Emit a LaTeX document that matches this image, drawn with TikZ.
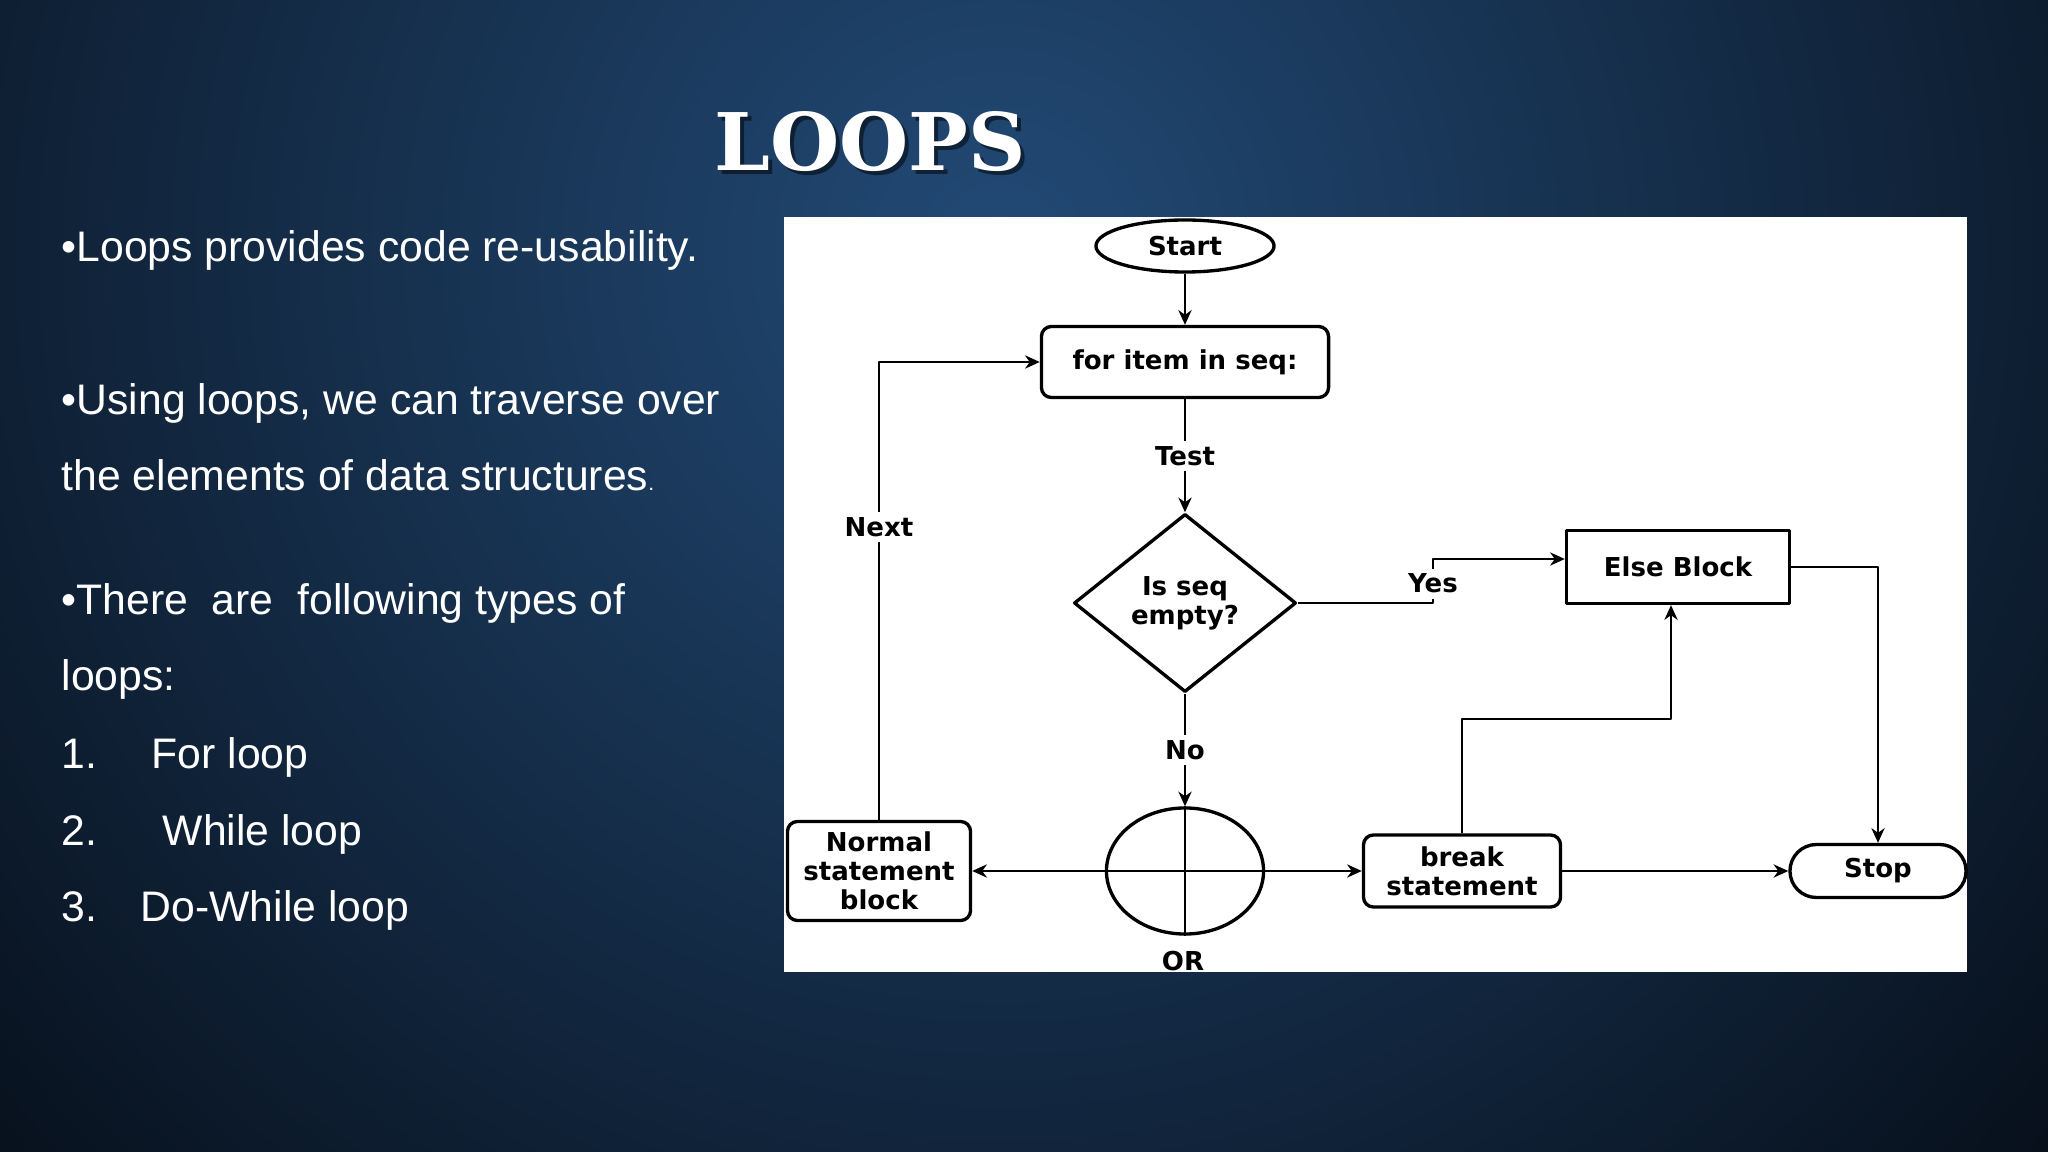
\documentclass[tikz,border=0pt]{standalone}
\usepackage{fontspec}
\setmainfont{Liberation Sans}
\newfontfamily\titlefont{DejaVu Serif}
\newfontfamily\chartfont{DejaVu Sans}
\usetikzlibrary{shapes.geometric,arrows.meta,positioning}
\definecolor{bgin}{RGB}{34,74,118}
\definecolor{bgout}{RGB}{7,15,26}
\begin{document}
\begin{tikzpicture}[x=0.01cm, y=-0.01cm, line join=round, >={Stealth[length=4.2pt,width=3.8pt]},
	txt/.style={anchor=base west, text=white, inner sep=0pt, font=\fontsize{12.15}{14}\selectfont},
	box/.style={draw, line width=0.95pt, fill=white, align=center, inner sep=0pt, font=\chartfont\bfseries\fontsize{7.4}{8.3}\selectfont},
	lbl/.style={fill=white, inner sep=1.5pt, font=\chartfont\bfseries\fontsize{7.4}{8.3}\selectfont},
	conn/.style={line width=0.45pt}]
	\useasboundingbox (0,0) rectangle (2048,1152);
	% slide background
	\fill[bgout] (0,0) rectangle (2048,1152);
	\begin{scope}
		\clip (0,0) rectangle (2048,1152);
		\shade[inner color=bgin, outer color=bgout] (1000,250) circle (14cm);
	\end{scope}
	\node[anchor=base, text=black, opacity=.5, font=\titlefont\bfseries\fontsize{22.6}{27}\selectfont] at (874,175) {LOOPS};
	\node[anchor=base, text=white, font=\titlefont\bfseries\fontsize{22.6}{27}\selectfont] (title) at (870,171) {LOOPS};
	% left text
	\node[txt] (l1) at (61,262) {•Loops provides code re-usability.};
	\node[txt] (l2) at (61,415) {•Using loops, we can traverse over};
	\node[txt] (l3) at (61,491) {the elements of data structures{\fontsize{6}{7}\selectfont.}};
	\node[txt] (l4) at (61,614) {•There\ \ are\ \ following types of};
	\node[txt] (l5) at (61,690) {loops:};
	\node[txt] (n1) at (61,768) {1.};
	\node[txt] (i1) at (151,768) {For loop};
	\node[txt] (n2) at (61,845) {2.};
	\node[txt] (i2) at (162,845) {While loop};
	\node[txt] (n3) at (61,921) {3.};
	\node[txt] (i3) at (140,921) {Do-While loop};
	% flowchart
	\fill[white] (784,217) rectangle (1967,972);
	\node[box, ellipse, minimum width=1.78cm, minimum height=0.52cm] (start) at (1185,246) {Start};
	\node[box, rounded corners=0.1cm, minimum width=2.87cm, minimum height=0.71cm] (for) at (1185,362) {for item in seq:};
	\node[box, diamond, aspect=1.25, minimum width=2.22cm, minimum height=1.78cm] (test) at (1185,603) {Is seq\\empty?};
	\node[box, ellipse, minimum width=1.57cm, minimum height=1.26cm] (orgate) at (1185,871) {};
	\node[box, rounded corners=0.1cm, minimum width=1.83cm, minimum height=0.99cm] (normal) at (879,871) {Normal\\statement\\block};
	\node[box, rounded corners=0.1cm, minimum width=1.97cm, minimum height=0.72cm] (brk) at (1462,871) {break\\statement};
	\node[box, rounded corners=0.265cm, minimum width=1.76cm, minimum height=0.53cm] (stop) at (1878,871) {Stop};
	\node[box, minimum width=2.23cm, minimum height=0.73cm] (else) at (1678,567) {Else Block};
	\node[font=\chartfont\bfseries\fontsize{7.4}{8.3}\selectfont] (orlbl) at (1183,961) {OR};
	\draw[line width=0.6pt] (orgate.north) -- (orgate.south) (orgate.west) -- (orgate.east);
	\coordinate (yesbend) at (1433,559);
	\coordinate (brkbend) at (1671,719);
	\draw[conn,->] (start) -- (for);
	\draw[conn,->] (for) -- node[lbl]{Test} (test);
	\draw[conn,->] (test) -- node[lbl]{No} (orgate);
	\draw[conn,->] (orgate) -- (brk);
	\draw[conn,->] (orgate) -- (normal);
	\draw[conn,->] (brk) -- (stop);
	\draw[conn,->] (normal.north) |- node[lbl, pos=.32]{Next} (for.west);
	\draw[conn,->] (test.east) -| node[lbl, pos=.72]{Yes} (yesbend) -- (else.west |- yesbend);
	\draw[conn,->] (else.east) -| (stop.north);
	\draw[conn,->] (brk.north) |- (brkbend) -- (brkbend |- else.south);
\end{tikzpicture}
\end{document}
